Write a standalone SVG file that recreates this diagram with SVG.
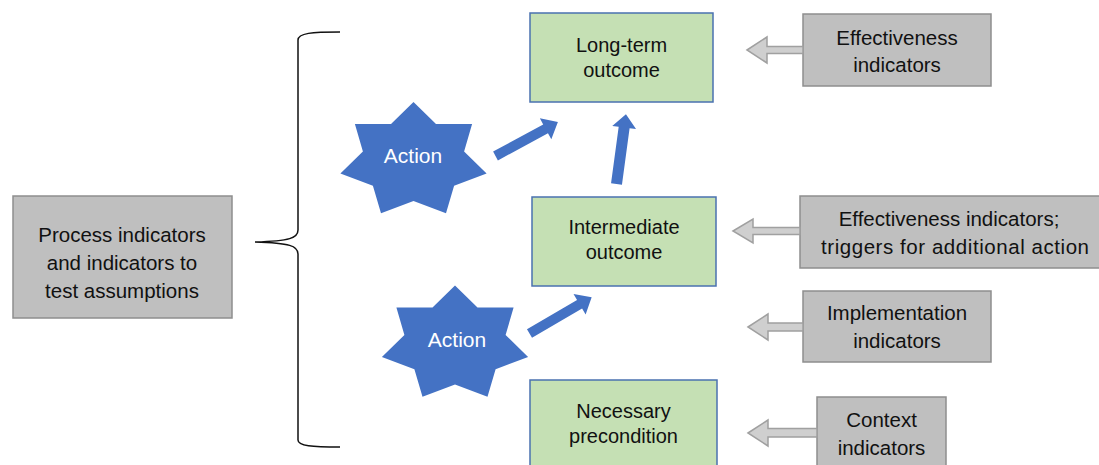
<svg xmlns="http://www.w3.org/2000/svg" xmlns:xlink="http://www.w3.org/1999/xlink" width="1099" height="465" viewBox="0 0 1099 465">
<style>
.green{fill:#C5E0B4;stroke:#4A72B0;stroke-width:1.5}
.gray{fill:#BFBFBF;stroke:#8E8E8E;stroke-width:1.5}
.garrow{fill:#CFCFCF;stroke:#A0A0A0;stroke-width:1.5;stroke-linejoin:miter}
.barrow{fill:#4472C4;stroke:none}
.star{fill:#4472C4;stroke:none}
.tg{font-family:"Liberation Sans",Arial,sans-serif;font-size:20px;fill:#111;text-anchor:middle}
.tc{font-family:"Liberation Sans",Arial,sans-serif;font-size:20.5px;fill:#111;text-anchor:middle}
.ta{font-family:"Liberation Sans",Arial,sans-serif;font-size:21px;fill:#FFFFFF;text-anchor:middle}
.brace{fill:none;stroke:#111;stroke-width:1.5}
</style>
<defs>
<polygon id="star7" points="0,-58.5 22.5,-36.5 58.6,-36.5 50.6,-9 73.1,13 40.6,25.3 32.5,52.7 0,40.5 -32.5,52.7 -40.6,25.3 -73.1,13 -50.6,-9 -58.6,-36.5 -22.5,-36.5"/>
</defs>

<g id="process-indicators">
<rect class="gray" x="13" y="196" width="219" height="122"/>
<text class="tc" x="122" y="242">Process indicators</text>
<text class="tc" x="122" y="270">and indicators to</text>
<text class="tc" x="122" y="298">test assumptions</text>
</g>

<g id="brace">
<path class="brace" d="M340,32 C312,32 298,33 298,40 L298,230 C298,238 290,241 255,242 C290,243 298,246 298,254 L298,440 C298,446 312,447 340,447"/>
</g>

<g id="action-1">
<use href="#star7" xlink:href="#star7" class="star" x="413.5" y="160.5"/>
<text class="ta" x="413" y="163">Action</text>
</g>

<g id="action-2">
<use href="#star7" xlink:href="#star7" class="star" x="455" y="344"/>
<text class="ta" x="457" y="347">Action</text>
</g>

<g id="long-term-outcome">
<rect class="green" x="530" y="13" width="183" height="89"/>
<text class="tg" x="621.5" y="52">Long-term</text>
<text class="tg" x="621.5" y="77">outcome</text>
</g>

<g id="intermediate-outcome">
<rect class="green" x="532" y="197" width="184" height="89"/>
<text class="tg" x="624" y="234">Intermediate</text>
<text class="tg" x="624" y="259">outcome</text>
</g>

<g id="necessary-precondition">
<rect class="green" x="530" y="380" width="187" height="95"/>
<text class="tg" x="623.5" y="418">Necessary</text>
<text class="tg" x="623.5" y="443">precondition</text>
</g>

<g id="effectiveness-indicators">
<rect class="gray" x="803" y="14" width="188" height="72"/>
<text class="tc" x="897" y="45">Effectiveness</text>
<text class="tc" x="897" y="72">indicators</text>
</g>

<g id="effectiveness-triggers">
<rect class="gray" x="800" y="196" width="305" height="72"/>
<text class="tc" x="949" y="226">Effectiveness indicators;</text>
<text class="tc" x="955" y="254" textLength="268" lengthAdjust="spacing">triggers for additional action</text>
</g>

<g id="implementation-indicators">
<rect class="gray" x="803" y="291" width="188" height="71"/>
<text class="tc" x="897" y="320">Implementation</text>
<text class="tc" x="897" y="348">indicators</text>
</g>

<g id="context-indicators">
<rect class="gray" x="817" y="397" width="129" height="75"/>
<text class="tc" x="881.5" y="427">Context</text>
<text class="tc" x="881.5" y="455">indicators</text>
</g>

<g id="connectors">
<polygon class="barrow" transform="translate(495.5,156) rotate(-28.5)" points="0,-5 57,-5 57,-12 71,0 57,12 57,5 0,5"/>
<polygon class="barrow" transform="translate(616.5,184) rotate(-82.3)" points="0,-5.5 57,-5.5 57,-12 70.5,0 57,12 57,5.5 0,5.5"/>
<polygon class="barrow" transform="translate(529.5,333.5) rotate(-30.3)" points="0,-5 58,-5 58,-12 72,0 58,12 58,5 0,5"/>
<path class="garrow" d="M747,50 L767,37 L767,46.5 L803,46.5 L803,53.5 L767,53.5 L767,63 Z"/>
<path class="garrow" d="M733,231 L753,219 L753,227.5 L800,227.5 L800,234.5 L753,234.5 L753,243 Z"/>
<path class="garrow" d="M748,327 L768,314 L768,323 L803,323 L803,331 L768,331 L768,340 Z"/>
<path class="garrow" d="M748,433 L768,420 L768,428.5 L817,428.5 L817,437 L768,437 L768,446 Z"/>
</g>
</svg>
